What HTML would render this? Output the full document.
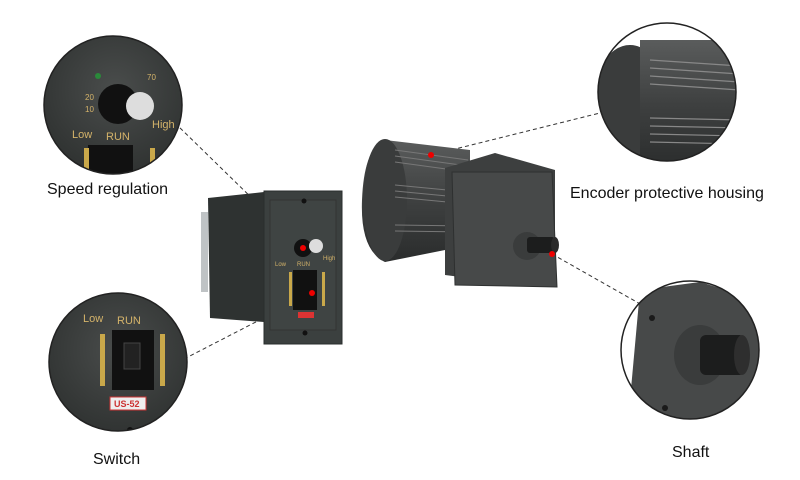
<!DOCTYPE html>
<html><head><meta charset="utf-8"><style>
html,body{margin:0;padding:0;background:#fff;width:800px;height:480px;overflow:hidden}
svg{display:block}
text{font-family:"Liberation Sans","DejaVu Sans",sans-serif}
</style></head><body>
<svg width="800" height="480" viewBox="0 0 800 480" xmlns="http://www.w3.org/2000/svg">
<defs>
<radialGradient id="cg" cx="0.5" cy="0.4" r="0.6"><stop offset="0" stop-color="#4a4d4c"/><stop offset="1" stop-color="#2e3130"/></radialGradient>
<linearGradient id="mg" x1="0" y1="0" x2="0" y2="1"><stop offset="0" stop-color="#5a5c5c"/><stop offset="0.5" stop-color="#3e4040"/><stop offset="1" stop-color="#2a2c2c"/></linearGradient>
<clipPath id="c1"><circle cx="113" cy="105" r="69"/></clipPath>
<clipPath id="c2"><circle cx="118" cy="362" r="69"/></clipPath>
<clipPath id="c3"><circle cx="667" cy="92" r="69"/></clipPath>
<clipPath id="c4"><circle cx="690" cy="350" r="69"/></clipPath>
</defs>

<!-- dashed lines -->
<g stroke="#333" stroke-width="1" stroke-dasharray="4,3" fill="none">
<line x1="303" y1="248" x2="176" y2="124"/>
<line x1="312" y1="293" x2="186" y2="358"/>
<line x1="431" y1="155" x2="604" y2="112"/>
<line x1="552" y1="254" x2="642" y2="305"/>
</g>

<!-- controller side -->
<polygon points="208,198 264,192 264,322 210,318" fill="#2e3231"/>
<rect x="201" y="212" width="7" height="80" fill="#bfc3c5"/>
<!-- controller front -->
<rect x="264" y="191" width="78" height="153" fill="#3b403f" stroke="#2a2e2d"/>
<rect x="270" y="200" width="66" height="130" fill="#3f4443" stroke="#333"/>
<circle cx="304" cy="201" r="2.5" fill="#111"/>
<circle cx="305" cy="333" r="2.5" fill="#111"/>
<circle cx="303" cy="248" r="9" fill="#111"/>
<circle cx="316" cy="246" r="7" fill="#ddd"/>
<rect x="293" y="270" width="24" height="40" fill="#111"/>
<rect x="289" y="272" width="3" height="34" fill="#c9a84a"/>
<rect x="322" y="272" width="3" height="34" fill="#c9a84a"/>
<rect x="298" y="312" width="16" height="6" fill="#d33" />
<text x="275" y="266" font-size="6" fill="#d4b36a">Low</text>
<text x="297" y="266" font-size="6" fill="#d4b36a">RUN</text>
<text x="323" y="260" font-size="6" fill="#d4b36a">High</text>
<circle cx="303" cy="248" r="3" fill="#e00"/>
<circle cx="312" cy="293" r="3" fill="#e00"/>

<!-- motor cylinder -->
<path d="M385,140 L470,150 L470,245 L385,262 Q360,250 362,200 Q364,148 385,140 Z" fill="url(#mg)"/>
<ellipse cx="385" cy="200" rx="22" ry="61" fill="#3a3c3c"/>
<g stroke="#777" stroke-width="1">
<line x1="395" y1="150" x2="468" y2="160"/><line x1="395" y1="156" x2="468" y2="166"/><line x1="395" y1="162" x2="468" y2="172"/>
<line x1="395" y1="185" x2="468" y2="192"/><line x1="395" y1="191" x2="468" y2="198"/><line x1="395" y1="197" x2="468" y2="204"/>
<line x1="395" y1="225" x2="468" y2="226"/><line x1="395" y1="231" x2="468" y2="232"/>
</g>
<!-- gearbox -->
<polygon points="445,168 495,153 555,170 555,287 500,282 445,275" fill="#3d3f3f"/>
<polygon points="452,172 552,172 557,287 455,285" fill="#474949" stroke="#2e3030"/>
<circle cx="527" cy="246" r="14" fill="#3a3c3c"/>
<rect x="527" y="237" width="28" height="16" rx="3" fill="#1c1d1d"/>
<ellipse cx="555" cy="245" rx="4" ry="8" fill="#2a2a2a"/>
<circle cx="431" cy="155" r="3" fill="#e00"/>
<circle cx="552" cy="254" r="3" fill="#e00"/>

<!-- circles -->
<g clip-path="url(#c1)">
<rect x="40" y="30" width="150" height="150" fill="url(#cg)"/>
<circle cx="98" cy="76" r="3" fill="#2a8a3a"/>
<circle cx="118" cy="104" r="20" fill="#111"/>
<circle cx="140" cy="106" r="14" fill="#ddd"/>
<rect x="88" y="145" width="45" height="40" fill="#111"/>
<rect x="84" y="148" width="5" height="35" fill="#c9a84a"/>
<rect x="150" y="148" width="5" height="35" fill="#c9a84a"/>
<text x="72" y="138" font-size="11" font-family="Liberation Serif" fill="#d4b36a">Low</text>
<text x="106" y="140" font-size="11" font-family="Liberation Serif" fill="#d4b36a">RUN</text>
<text x="152" y="128" font-size="11" font-family="Liberation Serif" fill="#d4b36a">High</text>
<text x="85" y="100" font-size="8" fill="#d4b36a">20</text>
<text x="85" y="112" font-size="8" fill="#d4b36a">10</text>
<text x="147" y="80" font-size="8" fill="#d4b36a">70</text>
</g>
<circle cx="113" cy="105" r="69" fill="none" stroke="#222" stroke-width="1.5"/>

<g clip-path="url(#c2)">
<rect x="45" y="290" width="150" height="150" fill="url(#cg)"/>
<rect x="112" y="330" width="42" height="60" fill="#111"/>
<rect x="124" y="343" width="16" height="26" fill="#222" stroke="#444"/>
<rect x="100" y="334" width="5" height="52" fill="#c9a84a"/>
<rect x="160" y="334" width="5" height="52" fill="#c9a84a"/>
<rect x="110" y="397" width="36" height="13" fill="#eee" stroke="#c33"/>
<text x="114" y="407" font-size="9" font-weight="bold" fill="#c33">US-52</text>
<text x="83" y="322" font-size="11" font-family="Liberation Serif" fill="#d4b36a">Low</text>
<text x="117" y="324" font-size="11" font-family="Liberation Serif" fill="#d4b36a">RUN</text>
<circle cx="130" cy="430" r="3" fill="#111"/>
</g>
<circle cx="118" cy="362" r="69" fill="none" stroke="#222" stroke-width="1.5"/>

<g clip-path="url(#c3)">
<rect x="595" y="20" width="150" height="150" fill="#fff"/>
<ellipse cx="630" cy="110" rx="40" ry="65" fill="#3a3c3c"/>
<path d="M640,40 L745,40 L745,170 L640,170 Z" fill="url(#mg)"/>
<g stroke="#888" stroke-width="1.2">
<line x1="650" y1="60" x2="740" y2="66"/><line x1="650" y1="68" x2="740" y2="74"/><line x1="650" y1="76" x2="740" y2="82"/><line x1="650" y1="84" x2="740" y2="90"/>
<line x1="650" y1="118" x2="740" y2="120"/><line x1="650" y1="126" x2="740" y2="128"/><line x1="650" y1="134" x2="740" y2="136"/><line x1="650" y1="142" x2="740" y2="144"/>
</g>
</g>
<circle cx="667" cy="92" r="69" fill="none" stroke="#222" stroke-width="1.5"/>

<g clip-path="url(#c4)">
<rect x="620" y="280" width="140" height="140" fill="#fff"/>
<polygon points="640,290 700,282 760,300 760,420 660,420 630,400" fill="#474949"/>
<ellipse cx="700" cy="355" rx="26" ry="30" fill="#3a3c3c"/>
<rect x="700" y="335" width="45" height="40" rx="6" fill="#1c1d1d"/>
<ellipse cx="742" cy="355" rx="8" ry="20" fill="#2e2e2e"/>
<circle cx="652" cy="318" r="3" fill="#1a1a1a"/>
<circle cx="665" cy="408" r="3" fill="#1a1a1a"/>
</g>
<circle cx="690" cy="350" r="69" fill="none" stroke="#222" stroke-width="1.5"/>

<!-- labels -->
<text x="47" y="194" font-size="16" fill="#111">Speed regulation</text>
<text x="93" y="464" font-size="16" fill="#111">Switch</text>
<text x="570" y="198" font-size="16" fill="#111">Encoder protective housing</text>
<text x="672" y="457" font-size="16" fill="#111">Shaft</text>
</svg>
</body></html>
